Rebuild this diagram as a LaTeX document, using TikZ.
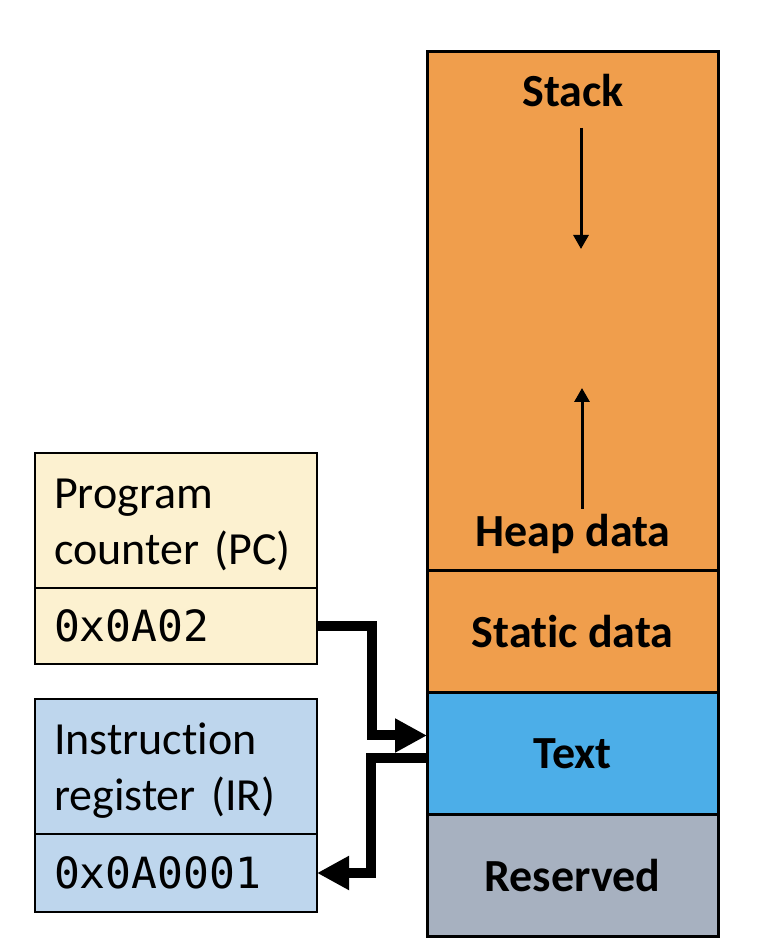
\documentclass[tikz,border=0pt]{standalone}
\usepackage{fontspec}
\usepackage{tikz}
\usetikzlibrary{arrows.meta}
\setmainfont[Ligatures=NoCommon]{Carlito}
\newfontfamily\regfont{DejaVu Sans Mono}

\definecolor{stackorange}{HTML}{F09E4C}
\definecolor{textblue}{HTML}{4CAEE8}
\definecolor{resgray}{HTML}{A7B1C0}
\definecolor{pcyellow}{HTML}{FCF1D0}
\definecolor{irblue}{HTML}{BED6ED}

\begin{document}
\begin{tikzpicture}
        [x=1pt,y=1pt,
         seg/.style={draw,line width=3pt,minimum width=291pt,outer sep=0pt,inner sep=0pt,font=\fontsize{46}{56}\selectfont\bfseries},
         regbox/.style={draw,line width=2.5pt,text width=244pt,inner xsep=19pt,inner ysep=0pt,outer sep=0pt,align=left,font=\fontsize{46}{56}\selectfont},
         reglabel/.style={regbox,text height=30pt,text depth=54pt},
         regval/.style={regbox,font=\fontsize{43}{50}\selectfont\regfont},
         memlabel/.style={anchor=base,inner sep=0pt,font=\fontsize{46}{56}\selectfont\bfseries},
         bigarrow/.style={line width=10pt,line join=miter,-{Triangle[length=32pt,width=32pt]}},
         growarrow/.style={line width=3pt,-{Triangle[length=14pt,width=15pt]}}]

        \useasboundingbox (0,0) rectangle (758,948);

        % memory layout
        \node[seg,fill=stackorange,minimum height=519pt] (stackseg) at (572.5,636.5) {};
        \node[seg,fill=stackorange,minimum height=122pt] (staticseg) at (572.5,316) {Static data};
        \node[seg,fill=textblue,minimum height=122pt] (textseg) at (572.5,194) {Text};
        \node[seg,fill=resgray,minimum height=122pt] (resseg) at (572.5,72) {Reserved};

        \node[memlabel] (stacklabel) at (573,841) {Stack};
        \node[memlabel] (heaplabel) at (573,401) {Heap data};

        \coordinate (stackfrom) at (581,820);
        \coordinate (stackto) at (581,699);
        \coordinate (heapfrom) at (582,439);
        \coordinate (heapto) at (582,560);
        \draw[growarrow] (stackfrom) -- (stackto);
        \draw[growarrow] (heapfrom) -- (heapto);

        % registers
        \node[reglabel,fill=pcyellow,minimum height=135pt] (pclabel) at (176,427.5) {Program\\counter (PC)};
        \node[regval,fill=pcyellow,minimum height=76pt] (pcval) at (176,322) {0x0A02};
        \node[reglabel,fill=irblue,minimum height=135pt] (irlabel) at (176,181.5) {Instruction\\register (IR)};
        \node[regval,fill=irblue,minimum height=78pt] (irval) at (176,75) {0x0A0001};

        \draw[bigarrow] (pcval.east) -- ++(55,0) |- ([yshift=18.5pt]textseg.west);
        \draw[bigarrow] ([yshift=-4pt]textseg.west) -- ++(-56,0) |- (irval.east);

      \end{tikzpicture}
\end{document}
